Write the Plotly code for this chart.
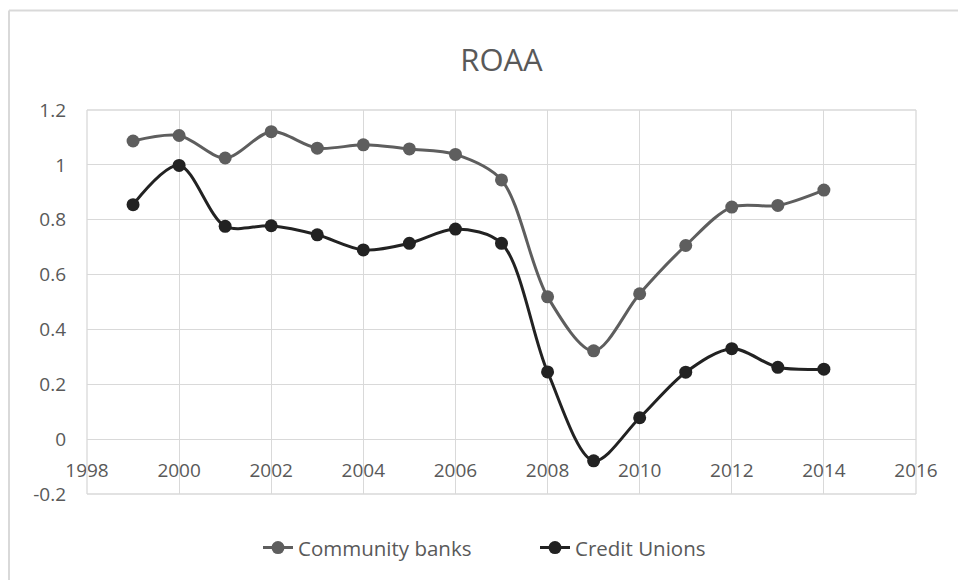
import plotly.graph_objects as go

years = [1999, 2000, 2001, 2002, 2003, 2004, 2005, 2006, 2007, 2008, 2009, 2010, 2011, 2012, 2013, 2014]
community_banks = [1.087, 1.107, 1.025, 1.121, 1.061, 1.073, 1.058, 1.038, 0.945, 0.519, 0.322, 0.530, 0.706, 0.846, 0.852, 0.908]
credit_unions = [0.855, 0.998, 0.776, 0.778, 0.745, 0.690, 0.714, 0.766, 0.714, 0.245, -0.079, 0.078, 0.244, 0.330, 0.262, 0.255]

x_ticks = [1998, 2000, 2002, 2004, 2006, 2008, 2010, 2012, 2014, 2016]
y_ticks = [-0.2, 0, 0.2, 0.4, 0.6, 0.8, 1.0, 1.2]
y_labels = ["-0.2", "0", "0.2", "0.4", "0.6", "0.8", "1", "1.2"]

W, H = 958, 580
L, R, T, B = 87, 42, 110, 84
YMIN, YMAX = -0.2, 1.2

font_family = "Open Sans, Noto Sans, sans-serif"
text_color = "#595959"
grid_color = "#d9d9d9"

fig = go.Figure()
fig.add_trace(go.Scatter(
    x=years, y=community_banks, name="Community banks",
    mode="lines+markers",
    line=dict(color="#5e5e5e", width=3, shape="spline", smoothing=0.9),
    marker=dict(color="#5e5e5e", size=13),
))
fig.add_trace(go.Scatter(
    x=years, y=credit_unions, name="Credit Unions",
    mode="lines+markers",
    line=dict(color="#222222", width=3, shape="spline", smoothing=0.9),
    marker=dict(color="#222222", size=13),
))

zero_pos = (0 - YMIN) / (YMAX - YMIN)
pw = W - L - R
ph = H - T - B

fig.update_layout(
    width=W, height=H,
    margin=dict(l=L, r=R, t=T, b=B),
    paper_bgcolor="white", plot_bgcolor="white",
    font=dict(family=font_family, color=text_color, size=19),
    title=dict(text="ROAA", x=0.5, xanchor="center", y=1 - 60 / H, yanchor="middle",
               xref="paper",
               font=dict(size=31, color=text_color, family=font_family)),
    xaxis=dict(
        range=[1998, 2016], tickvals=x_ticks, ticktext=[str(v) for v in x_ticks],
        showgrid=True, gridcolor=grid_color, gridwidth=1.3,
        zeroline=False, showline=False, ticks="",
        anchor="free", position=zero_pos, ticklabelstandoff=18,
        tickfont=dict(size=19, color=text_color),
    ),
    yaxis=dict(
        range=[YMIN, YMAX], tickvals=y_ticks, ticktext=y_labels,
        showgrid=True, gridcolor=grid_color, gridwidth=1.3,
        zeroline=False, showline=False, ticks="", ticklabelstandoff=20,
        tickfont=dict(size=19, color=text_color),
    ),
    legend=dict(
        orientation="h", x=(258 - L) / pw, xanchor="left",
        y=-(550 - (H - B)) / ph, yanchor="middle",
        font=dict(size=20.5, color=text_color),
        entrywidth=232, entrywidthmode="pixels",
        bgcolor="rgba(0,0,0,0)",
    ),
    showlegend=True,
)

# plot area border lines (Excel-like)
for (x0, x1, y0, y1) in [(0, 1, 1, 1), (0, 1, 0, 0), (0, 0, 0, 1), (1, 1, 0, 1)]:
    fig.add_shape(type="line", xref="paper", yref="paper", x0=x0, x1=x1, y0=y0, y1=y1,
                  line=dict(color=grid_color, width=1.3))

# chart outer border (left and top edges visible)
bx0 = (9 - L) / pw
by1 = 1 + (T - 10) / ph
fig.add_shape(type="line", xref="paper", yref="paper", x0=bx0, x1=(W + 5 - L) / pw, y0=by1, y1=by1,
              line=dict(color="#d9d9d9", width=2))
fig.add_shape(type="line", xref="paper", yref="paper", x0=bx0, x1=bx0, y0=by1, y1=-(B + 5) / ph,
              line=dict(color="#d9d9d9", width=2))

fig.write_html("out.html", config={"displayModeBar": False},
               post_script="document.body.style.margin='0';")
